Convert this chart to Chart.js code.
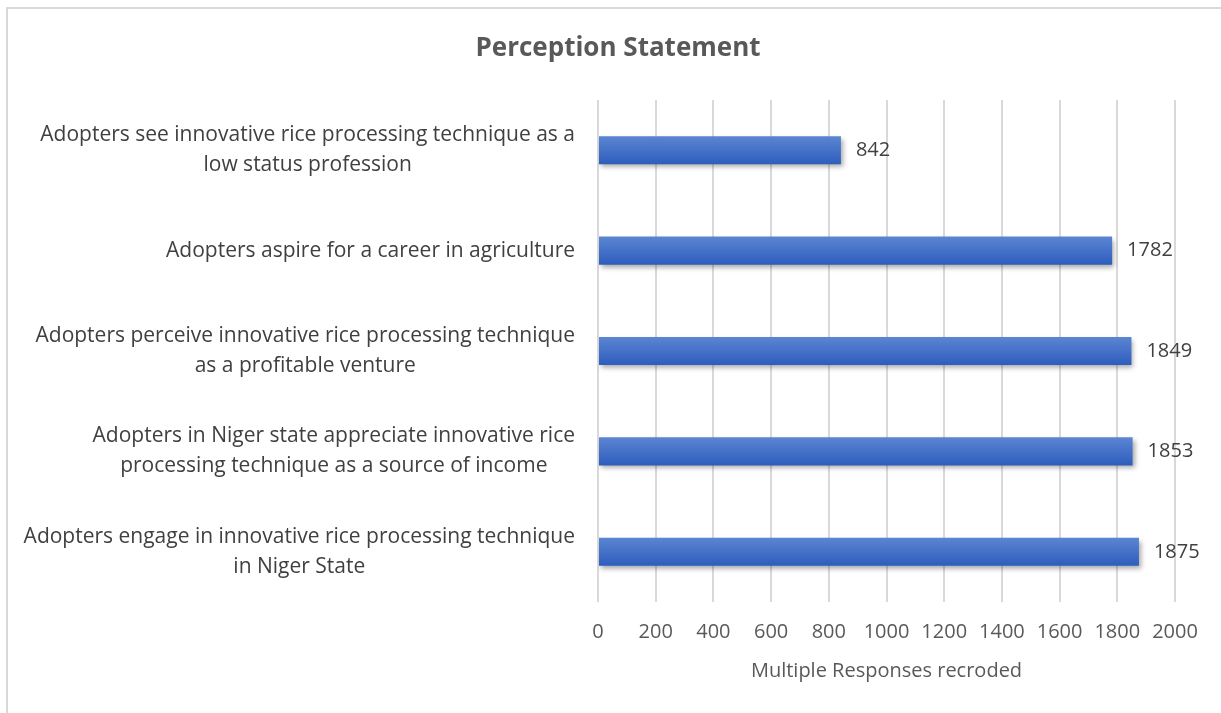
<!DOCTYPE html>
<html>
<head>
<meta charset="utf-8">
<script src="https://cdn.jsdelivr.net/npm/chart.js@4/dist/chart.umd.min.js"></script>
<style>
  html, body { margin: 0; padding: 0; background: #fff; overflow: hidden; }
  body { width: 1221px; height: 713px; position: relative; }
  #frame {
    position: absolute; left: 6px; top: 7px; width: 1240px; height: 730px;
    border: 2px solid #d9d9d9; box-sizing: border-box;
  }
  #wrap { position: absolute; left: 0; top: 0; width: 1221px; height: 713px; }
</style>
</head>
<body>
<div id="frame"></div>
<div id="wrap"><canvas id="perception-chart"></canvas></div>
<script>
const chartTitle = "Perception Statement";
const statements = [
    ["Adopters see innovative rice processing technique as a", "low status profession"],
    ["Adopters aspire for a career in agriculture"],
    ["Adopters perceive innovative rice processing technique", "as a profitable venture"],
    ["Adopters in Niger state appreciate innovative rice", "processing technique as a source of income"],
    ["Adopters engage in innovative rice processing technique", "in Niger State"],
];
const responses = [842, 1782, 1849, 1853, 1875];
const xTicks = [0, 200, 400, 600, 800, 1000, 1200, 1400, 1600, 1800, 2000];

const fontFamily = "'Open Sans', Lato, sans-serif";
const barPct = 0.28;

function barGradient(context) {
    const chart = context.chart;
    const yScale = chart.scales.y;
    if (!yScale || !chart.chartArea) return "#4472c4";
    const cy = yScale.getPixelForTick(context.dataIndex);
    const h = (chart.chartArea.height / statements.length) * barPct;
    const g = chart.ctx.createLinearGradient(0, cy - h / 2, 0, cy + h / 2);
    g.addColorStop(0, "#5c85d2");
    g.addColorStop(1, "#2d5dbd");
    return g;
}

// soft drop shadow under the bars
const barShadow = {
    id: "barShadow",
    beforeDatasetsDraw(chart) {
        const ctx = chart.ctx;
        ctx.save();
        ctx.shadowColor = "rgba(0, 0, 0, 0.35)";
        ctx.shadowBlur = 5;
        ctx.shadowOffsetX = 2;
        ctx.shadowOffsetY = 3;
    },
    afterDatasetsDraw(chart) {
        chart.ctx.restore();
    },
};

// value labels at the end of each bar
const valueLabels = {
    id: "valueLabels",
    afterDatasetsDraw(chart) {
        const ctx = chart.ctx;
        const meta = chart.getDatasetMeta(0);
        ctx.save();
        ctx.font = "20px " + fontFamily;
        ctx.fillStyle = "#404040";
        ctx.textAlign = "left";
        ctx.textBaseline = "middle";
        meta.data.forEach((bar, i) => {
            ctx.fillText(String(responses[i]), bar.x + 15, bar.y);
        });
        ctx.restore();
    },
};

// category labels: each block right-aligned, its lines centred within the block
const categoryLabels = {
    id: "categoryLabels",
    afterDraw(chart) {
        const ctx = chart.ctx;
        const yScale = chart.scales.y;
        const right = chart.chartArea.left - 23;
        const lineHeight = 30;
        ctx.save();
        ctx.font = "21px " + fontFamily;
        ctx.fillStyle = "#404040";
        ctx.textAlign = "center";
        ctx.textBaseline = "middle";
        statements.forEach((lines, i) => {
            const cy = yScale.getPixelForTick(i);
            const widest = Math.max(...lines.map((l) => ctx.measureText(l).width));
            const cx = right - widest / 2;
            const top = cy - ((lines.length - 1) * lineHeight) / 2;
            lines.forEach((line, j) => {
                ctx.fillText(line, cx, top + j * lineHeight);
            });
        });
        ctx.restore();
    },
};

// chart heading, centred on the frame rather than the plot
const heading = {
    id: "heading",
    afterDraw(chart) {
        const ctx = chart.ctx;
        ctx.save();
        ctx.font = "bold 26px " + fontFamily;
        ctx.fillStyle = "#595959";
        ctx.textAlign = "center";
        ctx.textBaseline = "middle";
        ctx.fillText(chartTitle, 618, 49);
        ctx.restore();
    },
};

const canvas = document.querySelector("#perception-chart");
new Chart(canvas.getContext("2d"), {
    type: "bar",
    data: {
        labels: statements,
        datasets: [
            {
                label: "Multiple Responses recroded",
                data: responses,
                backgroundColor: barGradient,
                borderWidth: 0,
                categoryPercentage: 1,
                barPercentage: barPct,
            },
        ],
    },
    options: {
        indexAxis: "y",
        responsive: true,
        maintainAspectRatio: false,
        animation: false,
        layout: { padding: { left: 0, right: 46, top: 100, bottom: 0 } },
        plugins: {
            legend: { display: false },
            tooltip: { enabled: false },
            title: { display: false },
        },
        scales: {
            x: {
                min: 0,
                max: 2000,
                afterBuildTicks(scale) {
                    scale.ticks = xTicks.map((v) => ({ value: v }));
                },
                afterFit(scale) {
                    scale.height = 111;
                },
                border: { display: false },
                grid: { color: "#d9d9d9", lineWidth: 2, drawTicks: false },
                ticks: {
                    color: "#595959",
                    font: { family: fontFamily, size: 20 },
                    padding: 18,
                    maxRotation: 0,
                    callback: (value) => String(value),
                },
                title: {
                    display: true,
                    text: "Multiple Responses recroded",
                    color: "#595959",
                    font: { family: fontFamily, size: 20 },
                    padding: { top: 0, bottom: 30 },
                },
            },
            y: {
                afterFit(scale) {
                    scale.width = 598;
                },
                border: { display: false },
                grid: { display: false, drawTicks: false },
                ticks: { display: false },
            },
        },
    },
    plugins: [barShadow, valueLabels, categoryLabels, heading],
});
</script>
</body>
</html>
